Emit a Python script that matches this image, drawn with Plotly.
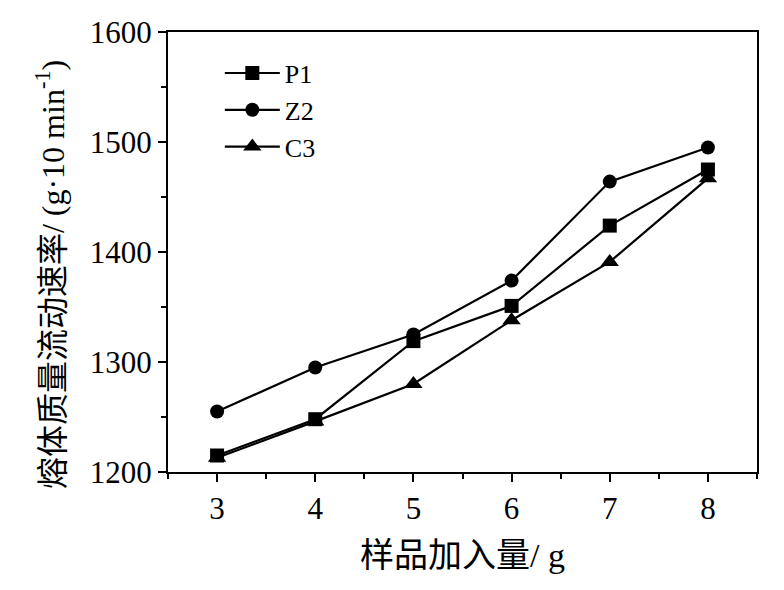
import plotly.graph_objects as go

x_vals = [3, 4, 5, 6, 7, 8]
p1 = [1215, 1248, 1319, 1351, 1424, 1475]
z2 = [1255, 1295, 1325, 1374, 1464, 1495]
c3 = [1213, 1246, 1280, 1338, 1391, 1467]

series = [("P1", p1, "square", 14), ("Z2", z2, "circle", 14), ("C3", c3, "triangle-up", 16)]

fig = go.Figure()
for name, vals, sym, msize in series:
    fig.add_trace(go.Scatter(
        x=x_vals, y=vals, name=name, mode="lines+markers",
        line=dict(color="black", width=2.2),
        marker=dict(symbol=sym, size=msize, color="black"),
    ))

serif = "Liberation Serif, Times New Roman, serif"
cjk = "Liberation Serif, Noto Sans CJK SC, serif"

fig.update_layout(
    width=784, height=590,
    margin=dict(l=168, r=27, t=32, b=118),
    paper_bgcolor="white", plot_bgcolor="white",
    showlegend=True,
    legend=dict(x=0.088, y=0.96, xanchor="left", yanchor="top",
                font=dict(family=serif, size=26, color="black"),
                bgcolor="rgba(0,0,0,0)", itemwidth=55),
    font=dict(family=serif, color="black"),
    annotations=[dict(
        text="熔体质量流动速率/ (g·10 min<sup>-1</sup>)",
        xref="paper", yref="paper", x=-0.2, y=0.448,
        xanchor="center", yanchor="middle", textangle=-90, showarrow=False,
        font=dict(family=cjk, size=32, color="black"),
    )],
)
fig.update_xaxes(
    range=[2.5, 8.5], tickvals=x_vals, ticktext=[str(v) for v in x_vals],
    ticks="outside", ticklen=8, tickwidth=2, tickcolor="black",
    minor=dict(ticks="outside", ticklen=5, tickwidth=2, tickcolor="black", dtick=0.5),
    showline=True, linewidth=2, linecolor="black", mirror=True,
    showgrid=False, zeroline=False, automargin=False,
    tickfont=dict(family=serif, size=31, color="black"),
    title=dict(text="样品加入量/ g", font=dict(family=cjk, size=34, color="black"), standoff=18),
)
fig.update_yaxes(
    range=[1200, 1600], tickvals=[1200, 1300, 1400, 1500, 1600],
    ticks="outside", ticklen=8, tickwidth=2, tickcolor="black",
    minor=dict(ticks="outside", ticklen=5, tickwidth=2, tickcolor="black", dtick=50),
    showline=True, linewidth=2, linecolor="black", mirror=True,
    showgrid=False, zeroline=False, automargin=False,
    tickfont=dict(family=serif, size=31, color="black"),
)

fig.write_html("out.html", config={"displayModeBar": False},
               post_script="document.body.style.margin='0px';")
